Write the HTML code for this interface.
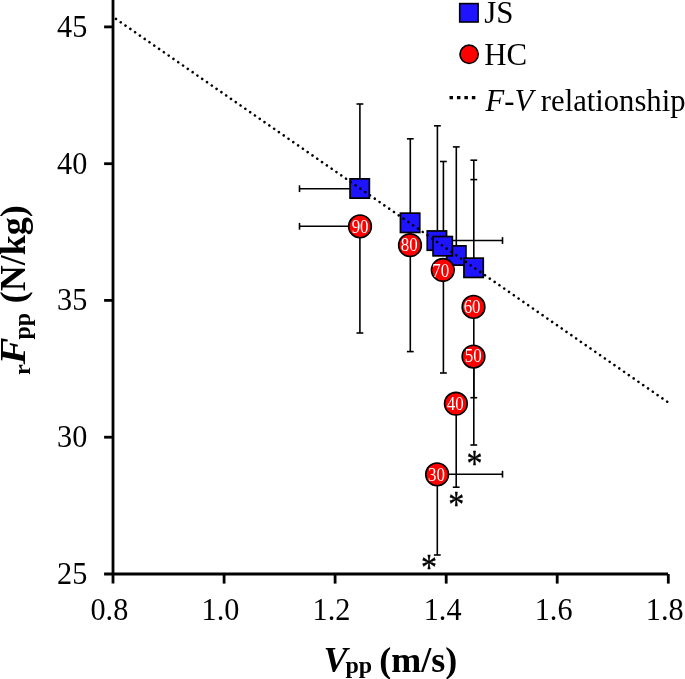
<!DOCTYPE html>
<html><head><meta charset="utf-8"><title>F-V relationship</title>
<style>
html,body{margin:0;padding:0;background:#fff;}
svg{display:block;filter:blur(.3px);font-family:"Liberation Serif","Times New Roman",serif;}
.eb{stroke:#000;stroke-width:1.6;fill:none}
.ax{stroke:#000;stroke-width:2.8;fill:none}
.tl{font-size:32px;fill:#000}
.lg{font-size:32px;fill:#000}
.num{font-size:18px;fill:#fff;text-anchor:middle}
.ast{font-size:32px;fill:#000;text-anchor:middle}
.ttl{font-size:36px;font-weight:bold;fill:#000}
</style></head><body>
<svg width="685" height="679" viewBox="0 0 685 679">
<rect width="685" height="679" fill="#fff"/>
<g id="errorbars" transform="translate(.2 0)">
<path class="eb" d="M359.7 104.0V188"/>
<path class="eb" d="M356.3 104.0H363.09999999999997"/>
<path class="eb" d="M410.1 138.8V222"/>
<path class="eb" d="M406.70000000000005 138.8H413.5"/>
<path class="eb" d="M437.2 125.8V240"/>
<path class="eb" d="M433.8 125.8H440.59999999999997"/>
<path class="eb" d="M443.2 161.5V245"/>
<path class="eb" d="M439.8 161.5H446.59999999999997"/>
<path class="eb" d="M456.1 146.9V255"/>
<path class="eb" d="M452.70000000000005 146.9H459.5"/>
<path class="eb" d="M473.6 160.2V267"/>
<path class="eb" d="M470.20000000000005 160.2H477.0"/>
<path class="eb" d="M359.7 226V333"/>
<path class="eb" d="M356.3 333H363.09999999999997"/>
<path class="eb" d="M410.1 245V351.6"/>
<path class="eb" d="M406.70000000000005 351.6H413.5"/>
<path class="eb" d="M443.2 270V373.0"/>
<path class="eb" d="M439.8 373.0H446.59999999999997"/>
<path class="eb" d="M473.6 307V397.7"/>
<path class="eb" d="M470.20000000000005 397.7H477.0"/>
<path class="eb" d="M473.6 357V445.0"/>
<path class="eb" d="M470.20000000000005 445.0H477.0"/>
<path class="eb" d="M456.0 403V487.2"/>
<path class="eb" d="M452.6 487.2H459.4"/>
<path class="eb" d="M437.1 474V555.0"/>
<path class="eb" d="M433.70000000000005 555.0H440.5"/>
<path class="eb" d="M470.2 179.6H477"/>
<path class="eb" d="M299.3 188.7H359"/>
<path class="eb" d="M299.3 185.29999999999998V192.1"/>
<path class="eb" d="M299.3 226.3H359"/>
<path class="eb" d="M299.3 222.9V229.70000000000002"/>
<path class="eb" d="M437 240.5H502.3"/>
<path class="eb" d="M502.3 237.1V243.9"/>
<path class="eb" d="M437 474.2H502.3"/>
<path class="eb" d="M502.3 470.8V477.59999999999997"/>
</g>
<g id="js" transform="translate(.1 .5)" fill="#1e14ff" stroke="#000" stroke-width="1.7">
<rect x="349.95" y="178.35" width="19.3" height="19.3"/>
<rect x="400.35" y="212.65" width="19.3" height="19.3"/>
<rect x="446.55" y="245.35" width="19.3" height="19.3"/>
<rect x="427.15" y="230.45" width="19.3" height="19.3"/>
<rect x="432.95" y="236.05" width="19.3" height="19.3"/>
<rect x="463.85" y="257.65" width="19.3" height="19.3"/>
</g>
<path d="M113.0 16.9L668.3 402.5" stroke="#000" stroke-width="2.6" stroke-linecap="round" stroke-dasharray="0.01 5.826" stroke-dashoffset="-3.55" fill="none"/>
<g id="hc" transform="translate(0 .4)">
<circle cx="360.0" cy="226.0" r="11.35" fill="#ff0000" stroke="#000" stroke-width="1.6"/>
<text class="num" transform="translate(360.1 232.4) scale(.94 1)">90</text>
<circle cx="410.0" cy="244.8" r="11.35" fill="#ff0000" stroke="#000" stroke-width="1.6"/>
<text class="num" transform="translate(409.2 251.0) scale(.94 1)">80</text>
<circle cx="442.8" cy="269.6" r="11.35" fill="#ff0000" stroke="#000" stroke-width="1.6"/>
<text class="num" transform="translate(440.7 276.4) scale(.94 1)">70</text>
<circle cx="473.5" cy="306.5" r="11.35" fill="#ff0000" stroke="#000" stroke-width="1.6"/>
<text class="num" transform="translate(472.1 312.2) scale(.94 1)">60</text>
<circle cx="473.5" cy="356.2" r="11.35" fill="#ff0000" stroke="#000" stroke-width="1.6"/>
<text class="num" transform="translate(473.3 361.9) scale(.94 1)">50</text>
<circle cx="455.9" cy="403.3" r="11.35" fill="#ff0000" stroke="#000" stroke-width="1.6"/>
<text class="num" transform="translate(455.2 409.3) scale(.94 1)">40</text>
<circle cx="437.1" cy="474.0" r="11.35" fill="#ff0000" stroke="#000" stroke-width="1.6"/>
<text class="num" transform="translate(436.4 480.2) scale(.94 1)">30</text>
</g>
<text class="ast" transform="translate(474.6 458.6) scale(1 1.2)" y="14.8" stroke="#000" stroke-width=".3">*</text>
<text class="ast" transform="translate(456.3 499.2) scale(1 1.2)" y="14.8" stroke="#000" stroke-width=".3">*</text>
<text class="ast" transform="translate(428.9 562.0) scale(1 1.2)" y="14.8" stroke="#000" stroke-width=".3">*</text>
<path class="ax" d="M113.0 0V583.6"/>
<path class="ax" d="M104.1 574.0H668.0999999999999"/>
<path class="ax" d="M104.1 437.2H113.0"/>
<path class="ax" d="M104.1 300.4H113.0"/>
<path class="ax" d="M104.1 163.7H113.0"/>
<path class="ax" d="M104.1 26.9H113.0"/>
<path class="ax" d="M224.1 574.0V583.6"/>
<path class="ax" d="M335.1 574.0V583.6"/>
<path class="ax" d="M446.2 574.0V583.6"/>
<path class="ax" d="M557.2 574.0V583.6"/>
<path class="ax" d="M668.3 574.0V583.6"/>
<text class="tl" text-anchor="end" transform="translate(87.3 583.9) scale(.945 1)">25</text>
<text class="tl" text-anchor="end" transform="translate(87.3 447.1) scale(.945 1)">30</text>
<text class="tl" text-anchor="end" transform="translate(87.3 310.3) scale(.945 1)">35</text>
<text class="tl" text-anchor="end" transform="translate(87.3 173.6) scale(.945 1)">40</text>
<text class="tl" text-anchor="end" transform="translate(87.3 36.8) scale(.945 1)">45</text>
<text class="tl" text-anchor="middle" transform="translate(109.4 619.5) scale(.945 1)">0.8</text>
<text class="tl" text-anchor="middle" transform="translate(220.5 619.5) scale(.945 1)">1.0</text>
<text class="tl" text-anchor="middle" transform="translate(331.5 619.5) scale(.945 1)">1.2</text>
<text class="tl" text-anchor="middle" transform="translate(442.6 619.5) scale(.945 1)">1.4</text>
<text class="tl" text-anchor="middle" transform="translate(553.6 619.5) scale(.945 1)">1.6</text>
<text class="tl" text-anchor="middle" transform="translate(664.7 619.5) scale(.945 1)">1.8</text>
<rect x="459.7" y="3.6" width="18.4" height="18.4" fill="#1e14ff" stroke="#000" stroke-width="1.6"/>
<text class="lg" transform="translate(484.3 23.4) scale(.965 1)">JS</text>
<circle cx="469.1" cy="54.3" r="9.15" fill="#ff0000" stroke="#000" stroke-width="1.6"/>
<text class="lg" transform="translate(484.3 65) scale(.965 1)">HC</text>
<path d="M449.5 97.7H476" stroke="#000" stroke-width="3.3" stroke-dasharray="3.5 3.95" fill="none"/>
<text class="lg" transform="translate(485.5 111.2) scale(.958 1)"><tspan font-style="italic">F-V</tspan> relationship</text>
<text class="ttl" y="671.8"><tspan x="323.4" font-style="italic">V</tspan><tspan x="345.5" dy="1" font-size="24">pp</tspan><tspan x="370.3" dy="-1"> (m/s)</tspan></text>
<g class="ttl">
<text transform="translate(30.3 375) rotate(-90)" font-size="24">r</text>
<text transform="translate(25 364.5) rotate(-90) scale(1.12 1)" font-style="italic">F</text>
<text transform="translate(30.3 339.5) rotate(-90)" font-size="24">pp</text>
<text transform="translate(25 303.35) rotate(-90)">(N/kg)</text>
</g>
</svg></body></html>
